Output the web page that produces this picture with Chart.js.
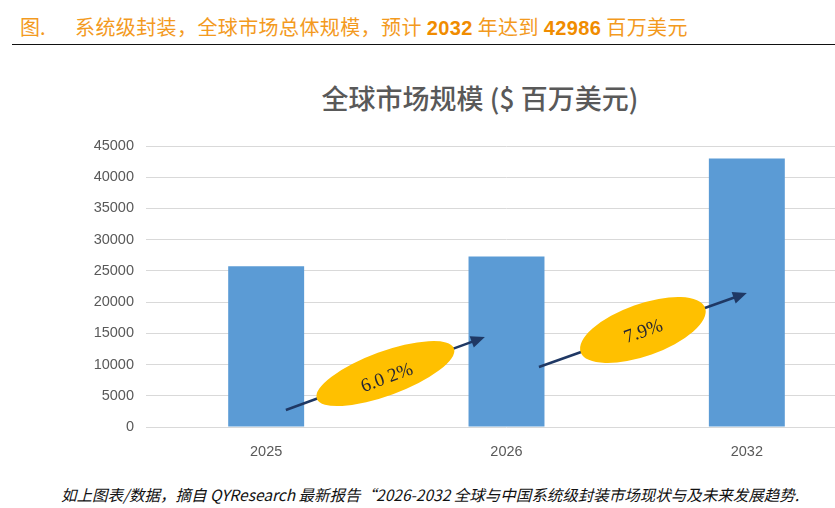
<!DOCTYPE html>
<html>
<head>
<meta charset="utf-8">
<script src="https://cdn.jsdelivr.net/npm/chart.js@4/dist/chart.umd.min.js"></script>
<style>
    html, body {
        margin: 0;
        padding: 0;
        width: 835px;
        height: 508px;
        overflow: hidden;
        background: #fff;
        position: relative;
        font-family: "Noto Sans CJK SC", "Liberation Sans", sans-serif;
    }
    .fig-label {
        position: absolute;
        left: 20px;
        top: 16px;
        font-size: 20px;
        line-height: 22px;
        color: #f39a1e;
    }
    .headline {
        position: absolute;
        left: 75px;
        top: 16px;
        font-size: 20px;
        line-height: 22px;
        color: #f39a1e;
        white-space: nowrap;
        letter-spacing: 0.4px;
    }
    .headline b {
        font-family: "Liberation Sans", sans-serif;
        font-size: 20px;
        color: #f08c00;
    }
    .rule {
        position: absolute;
        left: 12px;
        right: 0;
        top: 44px;
        height: 0;
        border-top: 1.5px solid #111;
    }
    .chart-title {
        position: absolute;
        left: 480px;
        top: 83px;
        transform: translateX(-50%);
        font-size: 27px;
        font-weight: 500;
        line-height: 30px;
        color: #595959;
        white-space: nowrap;
    }
    .chart-box {
        position: absolute;
        left: 0;
        top: 120px;
        width: 880px;
        height: 350px;
    }
    .source {
        position: absolute;
        left: 430px;
        top: 485px;
        transform: translateX(-50%);
        font-size: 15.5px;
        line-height: 18px;
        font-style: italic;
        color: #111;
        white-space: nowrap;
    }
</style>
</head>
<body>
<div class="fig-label">图.</div>
<div class="headline">系统级封装，全球市场总体规模，预计 <b>2032</b> 年达到 <b>42986</b> 百万美元</div>
<div class="rule"></div>
<div class="chart-title">全球市场规模 ($ 百万美元)</div>
<div class="chart-box"><canvas id="market-chart"></canvas></div>
<div class="source">如上图表/数据，摘自 QYResearch 最新报告“2026-2032 全球与中国系统级封装市场现状与及未来发展趋势.</div>

<script>
// Market size data (US$ million)
const years = ['2025', '2026', '2032'];
const marketSize = [25740, 27300, 42986];
const yTicks = [0, 5000, 10000, 15000, 20000, 25000, 30000, 35000, 40000, 45000];
const growthLabels = ['6.0 2%', '7.9%'];

// Arrow + ellipse callouts, placed in axis units (category index, value)
const callouts = [
    { from: [0.082, 2720], to: [0.91, 14410], rx: 73, ry: 22, label: growthLabels[0], dy: 5 },
    { from: [1.135, 9610], to: [2.0, 21450], rx: 66, ry: 26, label: growthLabels[1], dy: 2 }
];

const calloutPlugin = {
    id: 'callouts',
    afterDatasetsDraw(chart) {
        const { ctx, scales: { x, y } } = chart;
        const step = x.getPixelForValue(1) - x.getPixelForValue(0);
        const xAt = v => x.getPixelForValue(Math.floor(v)) + (v - Math.floor(v)) * step;

        callouts.forEach(c => {
            const x1 = xAt(c.from[0]), y1 = y.getPixelForValue(c.from[1]);
            const x2 = xAt(c.to[0]), y2 = y.getPixelForValue(c.to[1]);
            const ang = Math.atan2(y2 - y1, x2 - x1);
            const len = Math.hypot(x2 - x1, y2 - y1);

            ctx.save();
            ctx.translate(x1, y1);
            ctx.rotate(ang);

            // arrow shaft and head
            ctx.strokeStyle = '#1f3864';
            ctx.fillStyle = '#1f3864';
            ctx.lineWidth = 2.5;
            ctx.beginPath();
            ctx.moveTo(0, 0);
            ctx.lineTo(len - 11, 0);
            ctx.stroke();
            ctx.beginPath();
            ctx.moveTo(len, 0);
            ctx.lineTo(len - 14, -6);
            ctx.lineTo(len - 14, 6);
            ctx.closePath();
            ctx.fill();

            // ellipse in the middle
            ctx.translate(len / 2, 0);
            ctx.fillStyle = '#ffc000';
            ctx.beginPath();
            ctx.ellipse(0, 0, c.rx, c.ry, 0, 0, Math.PI * 2);
            ctx.fill();

            // growth rate text
            ctx.fillStyle = '#262633';
            ctx.font = '19px "Liberation Serif", serif';
            ctx.textAlign = 'center';
            ctx.textBaseline = 'middle';
            ctx.fillText(c.label, 0, c.dy);
            ctx.restore();
        });
    }
};

const ctx = document.getElementById('market-chart').getContext('2d');
new Chart(ctx, {
    type: 'bar',
    data: {
        labels: years,
        datasets: [{
            data: marketSize,
            backgroundColor: '#5b9bd5',
            borderWidth: 0,
            categoryPercentage: 1,
            barPercentage: 0.316
        }]
    },
    options: {
        responsive: true,
        maintainAspectRatio: false,
        animation: false,
        layout: {
            padding: { top: 26, right: 13, bottom: 0, left: 0 }
        },
        plugins: {
            legend: { display: false },
            title: { display: false },
            tooltip: { enabled: false }
        },
        scales: {
            x: {
                grid: { display: false },
                border: { display: false },
                ticks: {
                    color: '#595959',
                    font: { family: 'Liberation Sans', size: 14.5 },
                    padding: 8
                },
                afterFit: scale => { scale.height = 43; }
            },
            y: {
                min: 0,
                max: 45000,
                afterBuildTicks: scale => {
                    scale.ticks = yTicks.map(v => ({ value: v }));
                },
                grid: {
                    color: '#d9d9d9',
                    lineWidth: 1,
                    drawTicks: false
                },
                border: { display: false },
                ticks: {
                    color: '#595959',
                    font: { family: 'Liberation Sans', size: 14.5 },
                    padding: 12,
                    callback: v => String(v)
                },
                afterFit: scale => { scale.width = 146; }
            }
        }
    },
    plugins: [calloutPlugin]
});
</script>
</body>
</html>
